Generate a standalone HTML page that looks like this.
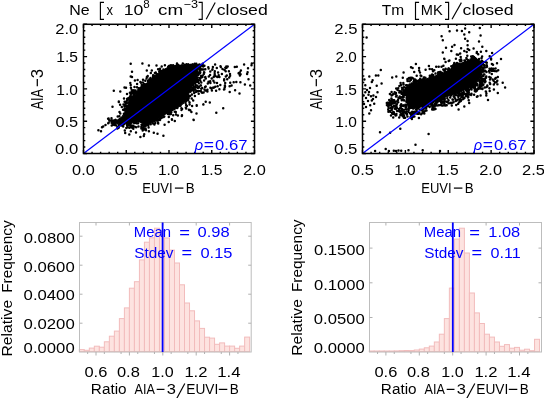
<!DOCTYPE html>
<html><head><meta charset="utf-8"><style>html,body{margin:0;padding:0;background:#fff;width:544px;height:398px;overflow:hidden}svg{display:block;will-change:transform}</style></head>
<body><svg width="544" height="398" viewBox="0 0 544 398" font-family="Liberation Sans, sans-serif"><rect width="544" height="398" fill="#fff"/><path d="M128.7 99.6h0M153.1 123.4h0M181.5 110.0h0M144.2 83.9h0M113.0 120.5h0M177.9 115.4h0M177.0 63.6h0M200.3 68.0h0M130.2 125.5h0M131.3 93.1h0M138.7 88.2h0M192.6 64.4h0M124.0 98.4h0M186.9 106.1h0M192.9 64.6h0M154.2 77.3h0M126.8 101.1h0M159.9 70.6h0M112.1 122.5h0M115.4 123.4h0M195.7 85.7h0M141.5 124.8h0M160.0 68.8h0M147.6 76.5h0M158.1 69.2h0M200.3 70.1h0M137.0 87.3h0M185.8 101.6h0M195.3 64.6h0M168.2 66.7h0M159.2 71.8h0M148.5 80.4h0M157.5 133.7h0M130.8 93.8h0M198.1 65.2h0M148.0 81.0h0M201.1 76.0h0M196.9 75.2h0M195.2 83.3h0M141.7 85.1h0M112.8 122.9h0M155.3 123.0h0M189.0 110.0h0M189.6 102.5h0M127.7 127.2h0M125.4 108.5h0M164.6 124.8h0M197.8 88.0h0M184.6 64.7h0M132.9 127.6h0M129.9 92.8h0M197.4 73.7h0M134.4 123.1h0M161.1 71.9h0M131.0 93.1h0M189.5 102.6h0M115.9 125.3h0M142.9 82.4h0M199.4 71.7h0M190.4 91.8h0M134.5 93.3h0M190.7 91.3h0M123.1 109.7h0M138.3 90.0h0M127.1 99.1h0M119.4 116.3h0M129.9 96.8h0M114.3 121.3h0M174.8 121.1h0M115.7 119.9h0M191.0 90.1h0M178.4 65.1h0M150.5 124.1h0M168.0 114.0h0M200.0 77.9h0M188.6 95.6h0M126.5 106.2h0M193.5 90.0h0M185.6 103.1h0M173.1 65.2h0M187.1 97.6h0M115.4 123.2h0M143.6 127.1h0M143.1 128.4h0M136.0 132.4h0M130.5 97.6h0M123.9 124.2h0M191.7 87.6h0M159.8 118.6h0M123.9 113.7h0M191.7 98.5h0M112.5 106.8h0M142.4 125.0h0M113.4 124.0h0M141.3 127.1h0M200.5 66.5h0M192.6 85.2h0M164.9 65.2h0M163.3 115.7h0M115.2 119.9h0M194.6 87.0h0M120.8 125.3h0M188.4 64.4h0M133.4 125.8h0M132.2 96.4h0M196.5 76.2h0M196.1 81.9h0M130.2 125.2h0M193.8 82.0h0M132.7 91.6h0M127.6 125.7h0M150.7 124.3h0M111.7 125.4h0M164.3 116.4h0M133.2 93.6h0M176.7 65.3h0M146.6 78.5h0M195.8 81.8h0M135.5 92.8h0M203.5 69.4h0M143.3 85.7h0M156.5 120.6h0M143.7 128.1h0M188.2 100.2h0M135.6 90.5h0M150.0 79.9h0M143.0 128.2h0M131.4 93.8h0M188.3 99.2h0M169.1 66.8h0M161.7 66.6h0M150.6 79.2h0M109.3 120.6h0M140.8 121.8h0M131.7 125.4h0M142.1 86.0h0M169.5 65.7h0M112.1 122.0h0M160.7 118.1h0M181.7 109.5h0M124.4 106.6h0M135.8 91.4h0M127.1 106.1h0M157.9 120.0h0M173.2 115.2h0M146.0 130.3h0M153.1 75.2h0M181.5 65.4h0M205.3 69.2h0M112.5 125.1h0M204.1 80.4h0M137.1 84.0h0M140.4 81.9h0M155.7 72.4h0M140.2 88.2h0M169.9 113.0h0M155.0 73.2h0M140.9 87.4h0M153.8 132.7h0M138.1 123.2h0M130.8 131.3h0M148.3 125.6h0M142.2 85.3h0M201.9 69.5h0M145.3 80.8h0M146.9 77.1h0M154.9 73.1h0M187.1 99.2h0M138.3 121.6h0M148.6 127.4h0M194.8 63.8h0M156.1 73.5h0M149.4 79.3h0M145.5 84.4h0M154.4 124.4h0M127.4 98.7h0M198.1 74.3h0M135.9 122.7h0M128.5 98.2h0M136.5 123.3h0M150.5 78.1h0M192.2 88.7h0M185.5 101.4h0M123.5 104.4h0M136.2 92.0h0M133.3 128.8h0M194.9 80.2h0M136.5 92.7h0M144.9 84.3h0M160.2 119.5h0M111.2 120.6h0M169.3 66.0h0M146.8 70.4h0M200.6 65.1h0M141.0 82.8h0M193.2 100.5h0M113.2 122.8h0M117.4 128.5h0M132.2 93.5h0M171.0 65.2h0M162.7 70.9h0M121.8 107.0h0M123.2 126.5h0M118.6 125.1h0M158.1 122.5h0M200.1 78.1h0M172.5 65.7h0M199.5 66.8h0M111.5 118.2h0M186.2 108.5h0M195.0 81.9h0M130.3 83.1h0M168.5 112.8h0M199.5 73.5h0M174.8 111.7h0M199.2 72.3h0M144.2 134.3h0M126.9 103.1h0M203.8 74.0h0M176.0 114.6h0M131.3 92.3h0M125.9 111.3h0M182.0 115.3h0M130.7 94.6h0M168.7 122.1h0M188.2 64.5h0M120.3 113.6h0M182.8 63.5h0M142.7 130.6h0M196.9 75.2h0M202.7 63.8h0M144.6 85.1h0M127.3 126.3h0M127.1 125.6h0M185.8 100.1h0M196.3 77.8h0M177.3 108.0h0M130.7 76.6h0M196.7 91.3h0M117.7 116.5h0M108.6 118.5h0M196.3 63.7h0M152.9 78.4h0M134.7 92.1h0M151.8 70.5h0M197.8 74.2h0M138.8 88.3h0M130.7 127.0h0M131.6 127.5h0M161.7 117.7h0M148.9 131.2h0M118.9 126.7h0M163.4 135.7h0M187.0 100.3h0M125.6 111.4h0M193.2 90.2h0M124.7 109.4h0M123.9 110.0h0M119.5 111.9h0M169.8 114.2h0M145.6 128.4h0M115.3 123.0h0M153.0 76.5h0M186.1 105.0h0M158.2 123.4h0M129.4 127.7h0M170.9 113.9h0M154.7 75.9h0M133.8 90.3h0M160.9 70.7h0M134.2 122.9h0M181.8 116.1h0M125.5 104.7h0M117.4 127.2h0M194.2 86.7h0M180.5 105.7h0M108.1 118.8h0M144.6 129.4h0M125.5 111.8h0M140.0 121.2h0M111.6 122.7h0M120.1 104.8h0M157.4 119.8h0M196.4 79.7h0M126.0 87.7h0M194.9 95.9h0M124.8 130.6h0M191.1 64.9h0M114.2 121.4h0M114.6 124.9h0M130.9 87.8h0M200.0 73.2h0M101.0 131.2h0M148.9 65.6h0M126.3 128.1h0M125.6 102.9h0M212.5 69.2h0M198.6 67.7h0M199.0 68.8h0M109.9 120.5h0M126.7 107.7h0M136.2 127.3h0M98.4 130.3h0M108.2 123.2h0M171.3 112.2h0M139.2 88.7h0M173.4 65.8h0M182.1 109.0h0M126.6 109.1h0M119.7 125.1h0M129.3 134.5h0M193.7 91.3h0M191.9 94.6h0M188.7 98.0h0M160.0 120.0h0M141.4 128.5h0M145.6 129.0h0M161.3 71.8h0M124.6 101.7h0M190.6 64.9h0M143.8 136.0h0M125.2 132.9h0M148.4 80.8h0M138.5 126.6h0M108.7 122.8h0M186.6 64.2h0M143.8 84.9h0M189.0 96.4h0M197.8 77.7h0M163.4 69.5h0M130.5 95.8h0M118.6 127.8h0M196.5 113.4h0M134.2 94.9h0M122.6 126.0h0M200.9 85.5h0M220.8 67.0h0M212.3 69.8h0M202.4 77.1h0M225.2 83.0h0M196.2 91.7h0M224.0 89.5h0M224.7 87.5h0M200.8 91.0h0M210.4 87.8h0M213.7 77.0h0M205.3 77.0h0M203.2 66.6h0M224.4 89.3h0M213.3 87.6h0M195.7 85.2h0M208.6 68.6h0M198.5 80.1h0M200.6 78.0h0M215.4 75.9h0M195.5 79.0h0M199.9 70.5h0M198.2 74.9h0M193.1 84.4h0M230.1 75.7h0M216.8 68.0h0M207.4 91.6h0M198.5 91.1h0M205.7 86.6h0M215.3 86.8h0M198.9 83.3h0M214.4 82.4h0M205.1 86.9h0M204.3 72.5h0M196.9 85.5h0M192.9 84.1h0M213.4 80.8h0M204.4 65.8h0M190.1 95.9h0M201.3 82.6h0M205.4 90.5h0M211.7 78.5h0M218.1 72.6h0M200.8 85.5h0M225.7 71.3h0M214.7 74.5h0M200.3 72.3h0M198.6 74.4h0M193.6 87.9h0M222.5 69.0h0M210.2 81.2h0M204.0 72.3h0M208.3 67.3h0M226.3 66.4h0M224.6 70.0h0M202.7 75.6h0M205.2 77.4h0M195.4 89.5h0M203.6 92.4h0M212.9 66.9h0M226.5 67.7h0M210.1 75.1h0M204.5 89.4h0M199.0 86.6h0M208.5 81.8h0M216.1 90.7h0M227.7 66.5h0M195.8 80.5h0M224.1 80.5h0M202.5 65.6h0M220.5 66.3h0M207.8 83.4h0M225.0 86.5h0M202.2 88.1h0M201.2 88.8h0M200.4 91.0h0M225.8 76.6h0M210.3 71.4h0M212.5 69.2h0M205.8 78.6h0M198.0 81.8h0M191.4 90.0h0M214.7 72.9h0M227.2 79.2h0M211.9 90.5h0M199.0 87.5h0M217.3 77.0h0M226.2 67.5h0M225.3 67.8h0M228.9 71.3h0M210.4 82.9h0M200.2 80.4h0M221.9 74.0h0M199.3 64.4h0M219.4 76.9h0M194.2 93.1h0M224.9 85.4h0M220.3 84.9h0M214.8 71.3h0M195.6 86.9h0M215.1 64.6h0M217.0 83.0h0M211.5 88.5h0M226.8 75.4h0M224.2 79.3h0M214.0 76.5h0M229.2 77.5h0M230.0 74.0h0M218.7 75.2h0M207.4 89.8h0M208.8 76.4h0M213.7 87.7h0M198.7 93.8h0M202.4 69.5h0M198.9 68.0h0M217.7 86.3h0M219.4 89.2h0M225.8 67.9h0M235.1 90.3h0M236.3 82.0h0M230.2 82.7h0M231.6 85.5h0M238.6 73.2h0M229.6 86.3h0M234.8 67.1h0M233.7 82.2h0M239.7 74.5h0M239.9 75.6h0M248.0 68.2h0M251.8 63.6h0M250.2 85.5h0M240.6 74.2h0M247.6 72.3h0M240.9 70.5h0M130.7 63.8h0M142.4 63.5h0M132.0 71.7h0M132.0 77.0h0M134.9 80.5h0M137.6 80.1h0M143.0 79.7h0M147.7 76.1h0M150.8 72.9h0M156.5 65.6h0M124.5 87.4h0M130.7 85.1h0M131.6 89.7h0M134.5 87.0h0M113.8 90.8h0M120.3 91.4h0M127.0 93.9h0M118.8 101.4h0M118.8 101.9h0M123.9 109.4h0M135.4 127.0h0M140.4 137.0h0M103.2 126.4h0M105.5 125.0h0M102.0 127.3h0M163.8 117.0h0M168.8 117.0h0M172.0 119.7h0M175.8 112.0h0M181.4 108.2h0M185.8 107.6h0M188.9 109.8h0M191.4 112.0h0M189.6 104.4h0M192.1 106.1h0M196.7 105.7h0M193.7 119.9h0M203.4 104.4h0M197.5 91.3h0M202.1 92.8h0M201.6 92.3h0M196.7 105.3h0M203.3 104.5h0M205.7 101.7h0M209.8 102.4h0M216.3 112.7h0M223.2 108.3h0M229.7 91.9h0M239.5 93.6h0M193.5 119.7h0M171.9 119.2h0M190.2 110.2h0M186.1 108.6h0M244.1 64.6h0M251.5 65.3h0M247.1 74.1h0M248.5 79.3h0M244.9 84.4h0M240.4 82.2h0M239.7 72.6h0M236.8 66.8h0" stroke="#000" stroke-width="2.5" stroke-linecap="round" fill="none"/><polygon points="113.76,122 119.42,124.36 125.62,123.84 129.33,126.06 131.41,123.29 139.98,120.43 144.48,126.61 145.38,126.76 149.71,123.73 155.17,121.25 158.97,118.39 164.17,114.76 170.3,111.69 176.62,108.29 183.16,103.62 185.75,100.17 188.12,94.95 197.01,74.21 198.43,67.6 198.64,65.3 190.03,65.3 175.24,65.6 169.81,66.5 165.46,68.68 161.32,72.3 157.09,73.71 154.38,77.32 144.06,85.58 139.35,88.88 135.33,94.41 130.66,97.52 129.37,98.81 128.01,104.68 125.84,111.72 121.82,116.9 117.9,119.69 114.13,121.85" fill="#000" stroke="#000" stroke-width="1.2" stroke-linejoin="round"/><line x1="83.5" y1="153.5" x2="254.5" y2="24.3" stroke="#0000ff" stroke-width="1.2"/><rect x="83.5" y="24.3" width="171" height="129.2" fill="none" stroke="#000" stroke-width="1.5"/><path d="M83.5 153.5v-3.6M83.5 24.3v3.6M92.05 153.5v-1.8M92.05 24.3v1.8M100.6 153.5v-1.8M100.6 24.3v1.8M109.15 153.5v-1.8M109.15 24.3v1.8M117.7 153.5v-1.8M117.7 24.3v1.8M126.25 153.5v-3.6M126.25 24.3v3.6M134.8 153.5v-1.8M134.8 24.3v1.8M143.35 153.5v-1.8M143.35 24.3v1.8M151.9 153.5v-1.8M151.9 24.3v1.8M160.45 153.5v-1.8M160.45 24.3v1.8M169 153.5v-3.6M169 24.3v3.6M177.55 153.5v-1.8M177.55 24.3v1.8M186.1 153.5v-1.8M186.1 24.3v1.8M194.65 153.5v-1.8M194.65 24.3v1.8M203.2 153.5v-1.8M203.2 24.3v1.8M211.75 153.5v-3.6M211.75 24.3v3.6M220.3 153.5v-1.8M220.3 24.3v1.8M228.85 153.5v-1.8M228.85 24.3v1.8M237.4 153.5v-1.8M237.4 24.3v1.8M245.95 153.5v-1.8M245.95 24.3v1.8M254.5 153.5v-3.6M254.5 24.3v3.6M83.5 153.5h3.6M254.5 153.5h-3.6M83.5 147.04h1.8M254.5 147.04h-1.8M83.5 140.58h1.8M254.5 140.58h-1.8M83.5 134.12h1.8M254.5 134.12h-1.8M83.5 127.66h1.8M254.5 127.66h-1.8M83.5 121.2h3.6M254.5 121.2h-3.6M83.5 114.74h1.8M254.5 114.74h-1.8M83.5 108.28h1.8M254.5 108.28h-1.8M83.5 101.82h1.8M254.5 101.82h-1.8M83.5 95.36h1.8M254.5 95.36h-1.8M83.5 88.9h3.6M254.5 88.9h-3.6M83.5 82.44h1.8M254.5 82.44h-1.8M83.5 75.98h1.8M254.5 75.98h-1.8M83.5 69.52h1.8M254.5 69.52h-1.8M83.5 63.06h1.8M254.5 63.06h-1.8M83.5 56.6h3.6M254.5 56.6h-3.6M83.5 50.14h1.8M254.5 50.14h-1.8M83.5 43.68h1.8M254.5 43.68h-1.8M83.5 37.22h1.8M254.5 37.22h-1.8M83.5 30.76h1.8M254.5 30.76h-1.8M83.5 24.3h3.6M254.5 24.3h-3.6" stroke="#000" stroke-width="1.4" fill="none"/><path d="M426.1 106.2h0M424.3 78.6h0M461.9 93.7h0M441.5 66.7h0M405.6 88.0h0M481.5 76.7h0M467.6 91.0h0M424.8 107.0h0M429.8 77.3h0M480.5 61.8h0M469.0 90.0h0M406.5 105.9h0M480.6 77.8h0M410.2 107.1h0M442.0 98.5h0M481.1 65.8h0M482.8 71.8h0M454.1 63.9h0M476.7 83.4h0M444.1 98.1h0M480.9 64.7h0M432.1 103.3h0M432.3 76.2h0M448.6 100.4h0M442.4 98.7h0M412.5 113.8h0M439.3 100.7h0M482.1 63.4h0M402.7 97.3h0M486.8 65.3h0M455.8 95.0h0M409.8 84.4h0M477.0 90.5h0M435.5 73.6h0M436.2 66.7h0M473.8 86.9h0M468.9 92.0h0M478.3 62.5h0M420.6 75.4h0M468.7 100.2h0M476.7 61.4h0M405.6 92.0h0M410.8 80.0h0M424.7 106.1h0M403.4 96.6h0M485.3 71.1h0M474.9 85.1h0M404.4 93.4h0M441.8 72.9h0M412.1 114.0h0M421.3 75.9h0M419.9 79.8h0M408.1 78.7h0M416.6 108.5h0M415.0 79.4h0M409.8 107.2h0M469.0 90.0h0M475.0 58.0h0M407.4 102.6h0M453.2 65.2h0M414.2 80.4h0M407.5 80.9h0M409.0 107.2h0M422.1 79.8h0M411.9 77.8h0M406.6 97.2h0M440.9 73.3h0M479.5 79.9h0M479.5 63.1h0M466.4 58.1h0M415.5 80.8h0M443.3 69.4h0M467.6 88.9h0M401.9 87.8h0M473.9 85.4h0M457.4 64.7h0M400.6 83.0h0M403.4 84.4h0M481.6 70.6h0M447.3 98.3h0M455.2 64.8h0M455.7 65.8h0M426.2 107.9h0M416.2 109.2h0M441.2 101.3h0M483.8 70.9h0M473.3 85.4h0M479.9 85.3h0M455.3 64.7h0M406.1 85.2h0M447.8 69.4h0M403.4 105.9h0M461.8 93.2h0M467.3 89.8h0M408.7 110.1h0M453.9 96.2h0M459.7 60.0h0M477.1 59.9h0M400.7 98.2h0M406.1 89.9h0M479.1 58.9h0M473.8 57.1h0M469.6 60.8h0M403.8 90.1h0M403.2 95.4h0M407.3 102.6h0M483.3 80.3h0M403.3 112.5h0M486.5 71.9h0M411.4 107.7h0M400.9 85.1h0M416.7 75.7h0M460.9 61.0h0M462.7 93.9h0M409.1 78.1h0M406.3 107.3h0M471.7 58.2h0M423.4 107.5h0M416.2 109.8h0M402.7 94.3h0M441.8 100.9h0M471.3 61.3h0M448.5 68.5h0M481.8 62.4h0M455.2 98.4h0M406.4 95.0h0M411.7 83.6h0M438.1 72.6h0M405.9 93.9h0M430.3 77.0h0M423.8 77.6h0M430.8 76.8h0M434.7 104.0h0M419.6 109.5h0M429.8 75.8h0M403.5 105.4h0M461.5 60.7h0M398.2 102.2h0M422.7 107.1h0M415.8 80.3h0M481.6 57.9h0M467.3 55.8h0M466.3 90.1h0M406.0 109.6h0M474.9 90.2h0M454.3 63.0h0M489.3 77.1h0M407.6 85.5h0M468.0 60.6h0M431.7 75.1h0M479.4 88.4h0M409.4 85.1h0M403.4 114.3h0M455.7 101.0h0M433.3 108.3h0M481.8 78.9h0M390.2 111.6h0M481.4 67.1h0M392.2 108.5h0M464.6 93.4h0M424.4 78.5h0M448.5 100.2h0M411.2 117.2h0M419.4 112.7h0M396.9 108.0h0M401.7 97.2h0M401.8 100.3h0M392.1 112.9h0M396.0 96.6h0M406.7 98.5h0M473.4 60.9h0M411.0 114.8h0M432.9 105.2h0M425.4 106.2h0M482.3 84.7h0M452.5 99.6h0M403.8 110.0h0M401.1 115.0h0M426.7 106.5h0M418.5 80.6h0M485.0 80.4h0M455.8 100.0h0M402.2 88.9h0M457.9 95.2h0M467.9 60.0h0M480.1 80.6h0M392.6 113.2h0M445.1 105.5h0M414.6 112.3h0M401.7 114.5h0M410.6 84.4h0M424.3 113.6h0M453.5 102.3h0M459.9 95.0h0M403.1 112.8h0M481.2 63.7h0M399.3 92.5h0M399.7 96.6h0M442.6 101.4h0M414.0 112.3h0M459.8 99.2h0M387.8 105.7h0M450.9 103.0h0M400.4 115.1h0M423.4 108.1h0M482.1 70.8h0M392.8 103.6h0M386.8 103.1h0M399.5 98.0h0M476.2 58.9h0M412.7 115.0h0M394.9 103.3h0M407.1 101.0h0M425.3 110.7h0M403.6 96.6h0M403.2 110.7h0M391.4 109.0h0M428.5 105.8h0M475.9 84.0h0M450.2 97.6h0M410.2 107.9h0M464.4 98.1h0M466.3 95.0h0M403.6 113.8h0M396.8 104.2h0M388.4 110.3h0M402.1 109.0h0M400.4 112.3h0M471.7 58.8h0M432.4 107.9h0M482.9 75.6h0M461.6 96.0h0M392.5 113.8h0M484.8 78.8h0M395.3 105.9h0M475.0 88.1h0M445.6 101.3h0M412.3 83.9h0M406.6 91.9h0M414.5 83.1h0M426.5 110.6h0M479.3 87.2h0M483.1 64.5h0M388.3 106.4h0M405.6 107.7h0M391.7 102.1h0M409.8 84.4h0M389.8 111.5h0M398.0 100.0h0M445.6 68.8h0M446.2 105.2h0M437.0 105.5h0M404.2 100.5h0M461.3 100.0h0M417.0 112.6h0M475.5 60.4h0M440.8 100.8h0M420.6 80.7h0M405.4 104.8h0M454.3 65.7h0M390.4 103.8h0M484.3 66.3h0M402.9 92.9h0M404.0 87.3h0M479.8 83.9h0M485.5 71.1h0M406.3 106.5h0M394.9 106.3h0M468.3 97.1h0M414.1 113.1h0M485.8 78.0h0M402.3 92.3h0M413.1 108.4h0M421.7 80.5h0M460.0 100.3h0M478.4 88.1h0M471.3 94.8h0M391.6 95.4h0M448.8 68.6h0M471.5 93.8h0M434.7 106.6h0M417.4 111.9h0M483.4 84.4h0M467.2 91.6h0M442.2 73.0h0M407.6 111.2h0M477.4 85.5h0M392.2 106.9h0M451.3 66.3h0M483.1 85.0h0M472.8 58.1h0M457.7 95.5h0M468.2 61.3h0M403.4 112.1h0M403.7 97.1h0M415.1 82.9h0M462.8 97.6h0M413.5 81.8h0M441.2 102.6h0M391.8 99.7h0M425.8 110.3h0M396.3 96.6h0M435.5 103.3h0M409.9 107.6h0M405.0 94.4h0M396.3 115.2h0M400.6 112.7h0M396.4 114.0h0M403.8 90.6h0M408.3 109.1h0M403.2 99.6h0M450.9 95.6h0M482.7 76.0h0M396.2 108.1h0M402.3 111.0h0M391.0 104.9h0M444.2 100.9h0M467.6 95.0h0M421.1 114.3h0M465.7 96.0h0M484.3 70.8h0M477.9 89.0h0M406.4 101.7h0M436.6 102.8h0M429.6 107.0h0M452.9 99.8h0M392.9 113.6h0M387.9 102.8h0M470.7 87.0h0M432.2 109.5h0M463.2 93.0h0M476.1 91.3h0M472.7 87.2h0M401.5 93.3h0M421.2 110.2h0M483.8 71.4h0M483.2 68.5h0M390.9 108.0h0M481.7 67.0h0M444.4 101.1h0M483.1 69.3h0M407.1 85.4h0M413.7 116.6h0M399.2 111.2h0M475.5 91.6h0M434.9 104.9h0M424.0 79.2h0M404.6 92.4h0M393.9 106.1h0M402.8 116.3h0M481.3 65.7h0M425.4 77.8h0M391.9 109.8h0M431.4 104.1h0M405.0 94.8h0M481.0 82.1h0M391.6 108.8h0M393.4 100.2h0M483.3 75.9h0M474.8 61.5h0M461.3 93.7h0M437.3 102.6h0M444.4 99.2h0M407.5 116.4h0M475.1 60.1h0M481.9 60.7h0M460.1 61.2h0M485.8 77.3h0M437.3 101.0h0M390.4 111.7h0M440.4 72.0h0M475.3 60.5h0M444.4 103.4h0M449.5 69.6h0M424.6 77.6h0M436.0 102.8h0M395.0 108.8h0M410.0 113.2h0M464.4 60.5h0M417.1 81.2h0M393.9 112.3h0M481.7 82.6h0M390.4 111.0h0M401.0 108.0h0M458.6 96.6h0M388.6 108.2h0M389.3 105.5h0M404.6 92.5h0M400.4 115.2h0M430.6 103.7h0M453.5 67.2h0M476.3 89.5h0M436.3 104.1h0M392.0 100.6h0M406.3 112.3h0M389.7 104.3h0M424.1 112.1h0M470.8 88.5h0M439.2 101.1h0M445.3 105.6h0M457.0 63.1h0M407.6 104.1h0M396.7 95.8h0M444.8 99.1h0M388.2 109.7h0M406.9 100.3h0M395.6 115.5h0M394.6 106.3h0M444.0 70.5h0M391.5 108.6h0M399.7 110.7h0M467.5 89.0h0M482.4 85.5h0M410.6 117.1h0M450.5 102.9h0M431.8 105.0h0M396.4 107.7h0M403.7 111.0h0M485.5 81.5h0M401.5 93.7h0M396.4 108.8h0M442.9 101.7h0M412.7 114.4h0M460.4 95.1h0M472.8 86.6h0M387.5 103.3h0M398.6 97.7h0M403.9 115.4h0M407.1 114.0h0M477.3 84.6h0M425.7 107.4h0M439.2 73.9h0M442.7 105.6h0M406.7 114.6h0M482.6 79.1h0M392.7 94.8h0M464.7 93.7h0M475.9 60.5h0M397.6 90.1h0M418.0 81.2h0M446.7 105.2h0M468.0 97.5h0M393.1 101.9h0M400.4 107.8h0M483.3 80.7h0M458.2 99.4h0M406.1 113.3h0M391.2 100.8h0M463.3 98.2h0M485.0 81.4h0M419.3 112.5h0M433.1 105.3h0M453.7 96.5h0M389.2 100.0h0M440.7 99.9h0M393.5 101.1h0M403.2 105.6h0M452.2 102.8h0M433.1 75.0h0M413.2 116.7h0M447.1 101.9h0M462.8 95.8h0M395.5 93.9h0M402.2 89.6h0M431.5 105.5h0M404.7 111.9h0M484.3 80.9h0M405.1 117.7h0M391.7 101.0h0M458.7 63.7h0M418.9 113.8h0M466.5 58.9h0M474.8 90.9h0M435.5 108.9h0M473.9 59.9h0M471.5 89.4h0M427.7 105.4h0M428.5 105.3h0M401.2 104.3h0M388.5 108.0h0M463.7 92.0h0M463.3 98.9h0M386.9 105.1h0M482.9 70.0h0M389.5 102.6h0M403.9 117.7h0M413.4 113.9h0M440.0 72.0h0M411.3 113.4h0M396.8 101.5h0M421.6 109.5h0M393.5 100.6h0M423.7 108.6h0M468.4 93.1h0M413.9 112.5h0M466.2 90.6h0M484.4 74.5h0M427.8 105.7h0M406.8 99.3h0M402.8 89.3h0M438.0 74.6h0M443.6 105.2h0M458.4 96.9h0M443.2 102.5h0M391.4 98.5h0M479.8 81.9h0M442.0 105.5h0M480.0 84.8h0M411.7 116.7h0M483.5 62.1h0M392.8 94.5h0M413.7 113.2h0M458.5 93.3h0M477.0 83.9h0M439.3 72.4h0M427.1 104.9h0M469.6 94.5h0M401.3 91.4h0M396.0 93.0h0M400.5 105.6h0M409.1 107.4h0M416.1 113.6h0M459.7 93.6h0M484.3 79.1h0M474.4 88.4h0M425.1 107.4h0M438.5 72.2h0M451.8 66.7h0M396.6 106.0h0M432.7 106.8h0M475.7 91.4h0M479.1 61.1h0M403.5 96.8h0M404.0 116.6h0M410.8 114.3h0M401.2 106.3h0M416.4 111.3h0M422.2 113.3h0M422.9 111.6h0M394.1 114.0h0M412.2 111.8h0M467.0 94.0h0M401.0 110.4h0M482.3 64.4h0M394.2 100.3h0M472.9 87.3h0M484.9 67.4h0M393.2 112.1h0M483.7 74.7h0M436.1 105.0h0M417.9 108.2h0M390.8 107.9h0M394.6 92.3h0M395.6 109.1h0M438.8 105.2h0M440.4 105.1h0M479.9 61.4h0M481.5 82.3h0M395.3 92.9h0M413.2 113.2h0M476.9 96.7h0M424.0 78.9h0M474.9 86.2h0M391.6 99.0h0M467.7 49.0h0M480.9 83.9h0M489.7 82.7h0M410.7 77.7h0M489.7 56.3h0M472.0 59.2h0M437.4 101.3h0M408.8 78.4h0M433.9 109.4h0M411.3 112.5h0M484.8 79.6h0M483.0 63.2h0M498.2 70.3h0M393.1 94.2h0M460.9 100.9h0M403.7 99.9h0M430.3 76.6h0M409.6 81.2h0M466.6 94.1h0M455.9 58.8h0M409.6 84.8h0M460.2 94.6h0M475.8 85.3h0M405.4 92.7h0M471.2 56.6h0M493.0 64.8h0M407.4 79.8h0M401.3 97.6h0M397.2 111.1h0M393.2 117.5h0M431.3 105.2h0M481.5 80.7h0M491.1 58.4h0M485.7 62.2h0M495.7 78.1h0M480.9 51.8h0M487.4 85.9h0M418.9 117.9h0M392.6 107.4h0M486.8 67.0h0M486.2 77.3h0M493.6 80.8h0M480.0 63.9h0M494.9 82.6h0M490.7 77.8h0M432.1 69.2h0M470.5 59.5h0M407.3 101.4h0M395.3 102.0h0M413.2 78.6h0M458.2 103.8h0M456.8 54.6h0M414.4 116.6h0M497.4 84.3h0M399.0 109.0h0M420.2 78.7h0M456.7 100.5h0M412.0 78.2h0M408.5 111.7h0M399.7 90.9h0M486.8 62.7h0M411.0 116.2h0M415.5 81.6h0M420.0 72.4h0M444.2 58.7h0M413.6 108.4h0M389.9 94.1h0M443.9 101.4h0M422.9 79.3h0M458.1 54.7h0M399.2 117.4h0M447.6 101.8h0M407.5 79.0h0M410.9 117.7h0M476.9 52.1h0M461.1 59.4h0M434.3 70.3h0M448.7 61.1h0M464.4 93.7h0M412.0 115.6h0M471.2 95.0h0M406.5 88.1h0M391.6 92.1h0M443.4 65.8h0M476.7 52.9h0M489.5 68.7h0M423.1 109.5h0M485.8 91.6h0M415.4 79.7h0M479.3 81.3h0M483.7 74.4h0M454.4 97.2h0M402.3 114.8h0M460.9 95.4h0M398.5 97.9h0M405.7 106.3h0M417.4 113.8h0M491.1 59.6h0M458.9 94.7h0M416.7 108.9h0M494.6 71.0h0M496.5 82.0h0M388.4 111.7h0M456.2 105.0h0M441.7 103.2h0M411.9 118.9h0M448.6 103.2h0M472.7 56.2h0M460.7 57.1h0M482.1 56.4h0M414.3 111.8h0M416.7 109.9h0M449.4 60.5h0M396.2 88.5h0M388.3 104.9h0M398.2 88.2h0M451.8 105.4h0M473.6 48.4h0M466.7 51.9h0M454.6 63.4h0M477.6 96.2h0M456.1 65.6h0M465.0 60.9h0M445.1 71.3h0M461.3 97.3h0M482.4 89.0h0M399.4 85.9h0M432.1 74.6h0M403.3 83.0h0M489.4 88.2h0M493.8 84.6h0M491.9 63.9h0M493.4 68.8h0M489.0 71.1h0M481.1 88.4h0M492.7 79.6h0M489.7 90.9h0M491.5 70.8h0M482.5 88.4h0M480.9 86.3h0M486.4 93.6h0M486.7 87.1h0M495.6 68.4h0M489.5 72.6h0M484.8 87.5h0M483.5 81.1h0M490.0 79.4h0M482.3 83.0h0M496.5 71.2h0M486.0 91.8h0M490.4 69.5h0M486.3 76.4h0M484.9 82.2h0M493.1 70.8h0M490.2 84.0h0M487.3 85.6h0M497.3 80.7h0M487.0 66.8h0M484.5 65.3h0M482.0 67.4h0M495.2 78.8h0M493.9 89.4h0M491.8 74.1h0M491.5 68.5h0M366.6 37.4h0M441.6 36.2h0M442.8 40.3h0M446.0 47.7h0M442.8 52.6h0M444.4 59.1h0M445.6 61.9h0M411.0 67.2h0M415.9 64.0h0M412.6 68.1h0M419.1 68.1h0M414.2 72.1h0M419.1 70.5h0M403.6 72.6h0M425.6 69.7h0M428.9 66.1h0M429.7 68.9h0M433.0 71.3h0M438.7 66.8h0M380.8 70.0h0M369.3 76.5h0M375.9 75.4h0M378.3 75.4h0M364.4 79.5h0M372.6 80.3h0M371.8 81.9h0M376.7 85.7h0M381.6 83.6h0M365.3 85.2h0M392.2 77.5h0M396.3 76.5h0M402.8 77.8h0M403.6 84.4h0M449.6 31.3h0M457.0 30.5h0M461.9 30.9h0M465.1 28.6h0M469.2 32.2h0M479.8 28.1h0M464.3 34.6h0M465.1 38.7h0M467.6 41.1h0M480.6 35.4h0M479.0 41.6h0M454.5 44.9h0M452.1 46.8h0M461.1 48.2h0M467.6 45.2h0M464.3 50.9h0M469.2 50.1h0M482.3 46.8h0M486.3 50.9h0M451.3 50.9h0M460.2 53.4h0M478.2 54.2h0M492.1 53.0h0M501.0 59.1h0M497.0 63.2h0M497.8 77.0h0M502.7 82.7h0M505.1 87.6h0M365.3 92.3h0M368.5 94.7h0M371.0 96.3h0M373.4 95.5h0M371.8 100.4h0M374.2 103.7h0M370.2 105.3h0M377.5 92.3h0M371.0 110.2h0M369.3 113.5h0M363.6 95.5h0M366.0 98.0h0M368.0 101.0h0M364.0 104.0h0M367.0 90.0h0M370.0 88.0h0M366.0 107.0h0M373.0 99.0h0M376.0 97.0h0M369.0 92.0h0M391.0 115.4h0M400.3 128.7h0M380.0 132.2h0M390.1 132.7h0M428.6 133.9h0M415.5 144.8h0M375.1 151.0h0M385.7 149.0h0M388.9 151.0h0M393.8 150.7h0M396.0 151.0h0M398.5 150.5h0M401.2 150.7h0M408.5 150.2h0M422.7 150.2h0M440.0 151.0h0M458.6 109.4h0M464.3 106.6h0M469.2 102.9h0M459.4 102.1h0M474.1 94.7h0M480.6 95.5h0M486.3 95.5h0M488.0 100.1h0M497.8 93.1h0M467.6 96.3h0" stroke="#000" stroke-width="2.5" stroke-linecap="round" fill="none"/><polygon points="406.6,86.99 406.6,95.89 407.97,105.91 413.24,108.35 419.34,107.44 425.49,105.48 432.37,103.03 439.35,99.54 448.51,95.97 456.44,93.99 463.33,90.54 469.2,88.1 474.95,83.79 479.64,79.09 481.86,73.78 480.96,66.55 478.68,62.89 473.79,61.6 466.71,61.6 459.65,63.48 452.83,67.87 445.7,71.94 438.06,75 431.1,77.42 424.23,79.51 417.4,82.18 410.66,84.96" fill="#000" stroke="#000" stroke-width="1.2" stroke-linejoin="round"/><line x1="362.5" y1="153.5" x2="534" y2="24.3" stroke="#0000ff" stroke-width="1.2"/><rect x="362.5" y="24.3" width="171.5" height="129.2" fill="none" stroke="#000" stroke-width="1.5"/><path d="M362.5 153.5v-3.6M362.5 24.3v3.6M371.07 153.5v-1.8M371.07 24.3v1.8M379.65 153.5v-1.8M379.65 24.3v1.8M388.23 153.5v-1.8M388.23 24.3v1.8M396.8 153.5v-1.8M396.8 24.3v1.8M405.38 153.5v-3.6M405.38 24.3v3.6M413.95 153.5v-1.8M413.95 24.3v1.8M422.53 153.5v-1.8M422.53 24.3v1.8M431.1 153.5v-1.8M431.1 24.3v1.8M439.68 153.5v-1.8M439.68 24.3v1.8M448.25 153.5v-3.6M448.25 24.3v3.6M456.82 153.5v-1.8M456.82 24.3v1.8M465.4 153.5v-1.8M465.4 24.3v1.8M473.98 153.5v-1.8M473.98 24.3v1.8M482.55 153.5v-1.8M482.55 24.3v1.8M491.12 153.5v-3.6M491.12 24.3v3.6M499.7 153.5v-1.8M499.7 24.3v1.8M508.27 153.5v-1.8M508.27 24.3v1.8M516.85 153.5v-1.8M516.85 24.3v1.8M525.43 153.5v-1.8M525.43 24.3v1.8M534 153.5v-3.6M534 24.3v3.6M362.5 153.5h3.6M534 153.5h-3.6M362.5 147.04h1.8M534 147.04h-1.8M362.5 140.58h1.8M534 140.58h-1.8M362.5 134.12h1.8M534 134.12h-1.8M362.5 127.66h1.8M534 127.66h-1.8M362.5 121.2h3.6M534 121.2h-3.6M362.5 114.74h1.8M534 114.74h-1.8M362.5 108.28h1.8M534 108.28h-1.8M362.5 101.82h1.8M534 101.82h-1.8M362.5 95.36h1.8M534 95.36h-1.8M362.5 88.9h3.6M534 88.9h-3.6M362.5 82.44h1.8M534 82.44h-1.8M362.5 75.98h1.8M534 75.98h-1.8M362.5 69.52h1.8M534 69.52h-1.8M362.5 63.06h1.8M534 63.06h-1.8M362.5 56.6h3.6M534 56.6h-3.6M362.5 50.14h1.8M534 50.14h-1.8M362.5 43.68h1.8M534 43.68h-1.8M362.5 37.22h1.8M534 37.22h-1.8M362.5 30.76h1.8M534 30.76h-1.8M362.5 24.3h3.6M534 24.3h-3.6" stroke="#000" stroke-width="1.4" fill="none"/><text x="55.30" y="34.20" font-size="15.5" fill="#000" textLength="22.99" lengthAdjust="spacingAndGlyphs">2.0</text><text x="56.27" y="62.40" font-size="15.5" fill="#000" textLength="21.71" lengthAdjust="spacingAndGlyphs">1.5</text><text x="56.27" y="95.10" font-size="15.5" fill="#000" textLength="21.58" lengthAdjust="spacingAndGlyphs">1.0</text><text x="55.54" y="127.30" font-size="15.5" fill="#000" textLength="22.67" lengthAdjust="spacingAndGlyphs">0.5</text><text x="55.13" y="154.20" font-size="15.5" fill="#000" textLength="23.16" lengthAdjust="spacingAndGlyphs">0.0</text><text x="72.14" y="174.90" font-size="15.5" fill="#000" textLength="22.63" lengthAdjust="spacingAndGlyphs">0.0</text><text x="114.89" y="174.90" font-size="15.5" fill="#000" textLength="22.77" lengthAdjust="spacingAndGlyphs">0.5</text><text x="157.98" y="174.90" font-size="15.5" fill="#000" textLength="21.47" lengthAdjust="spacingAndGlyphs">1.0</text><text x="200.72" y="174.90" font-size="15.5" fill="#000" textLength="21.60" lengthAdjust="spacingAndGlyphs">1.5</text><text x="243.01" y="174.90" font-size="15.5" fill="#000" textLength="22.77" lengthAdjust="spacingAndGlyphs">2.0</text><text x="142.25" y="192.60" font-size="15.5" fill="#000" textLength="30.35" lengthAdjust="spacingAndGlyphs">EUVI</text><line x1="174.9" y1="188.1" x2="183.4" y2="188.1" stroke="#000" stroke-width="1.25"/><text x="185.82" y="192.60" font-size="15.5" fill="#000" textLength="8.90" lengthAdjust="spacingAndGlyphs">B</text><text x="43.50" y="109.60" font-size="16" fill="#000" textLength="20.53" lengthAdjust="spacingAndGlyphs" transform="rotate(-90 43.50 109.60)">AIA</text><line x1="37.3" y1="78.9" x2="37.3" y2="86.3" stroke="#000" stroke-width="1.25"/><text x="43.50" y="78.26" font-size="16" fill="#000" textLength="9.34" lengthAdjust="spacingAndGlyphs" transform="rotate(-90 43.50 78.26)">3</text><text x="194.66" y="150.00" font-size="15.5" fill="#0000ff" textLength="8.42" lengthAdjust="spacingAndGlyphs"><tspan font-style="italic">&#961;</tspan></text><text x="203.85" y="150.00" font-size="15.5" fill="#0000ff" textLength="10.26" lengthAdjust="spacingAndGlyphs">=</text><text x="215.03" y="149.90" font-size="15.5" fill="#0000ff" textLength="32.42" lengthAdjust="spacingAndGlyphs">0.67</text><text x="334.30" y="34.20" font-size="15.5" fill="#000" textLength="23.13" lengthAdjust="spacingAndGlyphs">2.5</text><text x="335.56" y="62.40" font-size="15.5" fill="#000" textLength="21.18" lengthAdjust="spacingAndGlyphs">2.0</text><text x="335.27" y="95.10" font-size="15.5" fill="#000" textLength="21.71" lengthAdjust="spacingAndGlyphs">1.5</text><text x="335.27" y="127.30" font-size="15.5" fill="#000" textLength="21.58" lengthAdjust="spacingAndGlyphs">1.0</text><text x="334.12" y="154.20" font-size="15.5" fill="#000" textLength="23.30" lengthAdjust="spacingAndGlyphs">0.5</text><text x="351.14" y="174.90" font-size="15.5" fill="#000" textLength="22.77" lengthAdjust="spacingAndGlyphs">0.5</text><text x="394.23" y="174.90" font-size="15.5" fill="#000" textLength="21.47" lengthAdjust="spacingAndGlyphs">1.0</text><text x="436.97" y="174.90" font-size="15.5" fill="#000" textLength="21.60" lengthAdjust="spacingAndGlyphs">1.5</text><text x="479.26" y="174.90" font-size="15.5" fill="#000" textLength="22.77" lengthAdjust="spacingAndGlyphs">2.0</text><text x="522.00" y="174.90" font-size="15.5" fill="#000" textLength="22.91" lengthAdjust="spacingAndGlyphs">2.5</text><text x="421.25" y="192.60" font-size="15.5" fill="#000" textLength="30.35" lengthAdjust="spacingAndGlyphs">EUVI</text><line x1="453.9" y1="188.1" x2="462.4" y2="188.1" stroke="#000" stroke-width="1.25"/><text x="464.82" y="192.60" font-size="15.5" fill="#000" textLength="8.90" lengthAdjust="spacingAndGlyphs">B</text><text x="322.50" y="109.60" font-size="16" fill="#000" textLength="20.53" lengthAdjust="spacingAndGlyphs" transform="rotate(-90 322.50 109.60)">AIA</text><line x1="316.3" y1="78.9" x2="316.3" y2="86.3" stroke="#000" stroke-width="1.25"/><text x="322.50" y="78.26" font-size="16" fill="#000" textLength="9.34" lengthAdjust="spacingAndGlyphs" transform="rotate(-90 322.50 78.26)">3</text><text x="473.66" y="150.00" font-size="15.5" fill="#0000ff" textLength="8.42" lengthAdjust="spacingAndGlyphs"><tspan font-style="italic">&#961;</tspan></text><text x="482.85" y="150.00" font-size="15.5" fill="#0000ff" textLength="10.26" lengthAdjust="spacingAndGlyphs">=</text><text x="494.03" y="149.90" font-size="15.5" fill="#0000ff" textLength="32.42" lengthAdjust="spacingAndGlyphs">0.67</text><text x="69.31" y="15.30" font-size="15.5" fill="#000" textLength="20.40" lengthAdjust="spacingAndGlyphs">Ne</text><path d="M104.0 2.4H100.4V19.3H104.0" fill="none" stroke="#000" stroke-width="1.15"/><text x="106.59" y="15.40" font-size="15.5" fill="#000" textLength="6.52" lengthAdjust="spacingAndGlyphs">x</text><text x="123.72" y="15.30" font-size="15.5" fill="#000" textLength="19.69" lengthAdjust="spacingAndGlyphs">10</text><text x="143.37" y="7.80" font-size="11" fill="#000" textLength="6.45" lengthAdjust="spacingAndGlyphs">8</text><text x="158.04" y="15.30" font-size="15.5" fill="#000" textLength="25.12" lengthAdjust="spacingAndGlyphs">cm</text><text x="183.72" y="7.80" font-size="11" fill="#000" textLength="14.46" lengthAdjust="spacingAndGlyphs">&#8722;3</text><path d="M198.6 2.4H202.2V19.3H198.6" fill="none" stroke="#000" stroke-width="1.15"/><line x1="206.2" y1="19.2" x2="215.2" y2="2.6" stroke="#000" stroke-width="1.15"/><text x="216.69" y="15.40" font-size="15.5" fill="#000" textLength="51.01" lengthAdjust="spacingAndGlyphs">closed</text><text x="381.73" y="15.30" font-size="15.5" fill="#000" textLength="22.38" lengthAdjust="spacingAndGlyphs">Tm</text><path d="M419.1 2.4H415.5V19.3H419.1" fill="none" stroke="#000" stroke-width="1.15"/><text x="420.72" y="15.30" font-size="15.5" fill="#000" textLength="21.91" lengthAdjust="spacingAndGlyphs">MK</text><path d="M445.0 2.4H448.6V19.3H445.0" fill="none" stroke="#000" stroke-width="1.15"/><line x1="452.0" y1="19.2" x2="461.4" y2="2.6" stroke="#000" stroke-width="1.15"/><text x="462.59" y="15.40" font-size="15.5" fill="#000" textLength="51.12" lengthAdjust="spacingAndGlyphs">closed</text><g fill="#fde3e0" stroke="#f2bcbc" stroke-width="1"><rect x="79.3" y="349.6" width="5.01" height="2"/><rect x="84.31" y="350.3" width="5.01" height="1.3"/><rect x="89.32" y="348.1" width="5.01" height="3.5"/><rect x="94.33" y="346.2" width="5.01" height="5.4"/><rect x="99.34" y="347.2" width="5.01" height="4.4"/><rect x="104.35" y="341.8" width="5.01" height="9.8"/><rect x="109.36" y="336.2" width="5.01" height="15.4"/><rect x="114.37" y="331.1" width="5.01" height="20.5"/><rect x="119.38" y="318.6" width="5.01" height="33"/><rect x="124.39" y="307.9" width="5.01" height="43.7"/><rect x="129.4" y="288.2" width="5.01" height="63.4"/><rect x="134.41" y="281.7" width="5.01" height="69.9"/><rect x="139.42" y="259.9" width="5.01" height="91.7"/><rect x="144.43" y="242.2" width="5.01" height="109.4"/><rect x="149.44" y="237.8" width="5.01" height="113.8"/><rect x="154.45" y="228.2" width="5.01" height="123.4"/><rect x="159.46" y="231" width="5.01" height="120.6"/><rect x="164.47" y="238" width="5.01" height="113.6"/><rect x="169.48" y="250.1" width="5.01" height="101.5"/><rect x="174.49" y="263" width="5.01" height="88.6"/><rect x="179.5" y="284.8" width="5.01" height="66.8"/><rect x="184.51" y="303" width="5.01" height="48.6"/><rect x="189.52" y="310.8" width="5.01" height="40.8"/><rect x="194.53" y="320.9" width="5.01" height="30.7"/><rect x="199.54" y="328.4" width="5.01" height="23.2"/><rect x="204.55" y="337.2" width="5.01" height="14.4"/><rect x="209.56" y="338.1" width="5.01" height="13.5"/><rect x="214.57" y="344.3" width="5.01" height="7.3"/><rect x="219.58" y="342.9" width="5.01" height="8.7"/><rect x="224.59" y="346.1" width="5.01" height="5.5"/><rect x="229.6" y="346.1" width="5.01" height="5.5"/><rect x="234.61" y="348.3" width="5.01" height="3.3"/><rect x="239.62" y="346.1" width="5.01" height="5.5"/><rect x="244.63" y="337.1" width="5.01" height="14.5"/></g><rect x="79.5" y="222.5" width="171.7" height="129.5" fill="none" stroke="#bdbdbd" stroke-width="1"/><path d="M96 222.5v3M96 352v3.5M129.4 222.5v3M129.4 352v3.5M162.8 222.5v3M162.8 352v3.5M196.2 222.5v3M196.2 352v3.5M229.6 222.5v3M229.6 352v3.5M87.65 352v2M104.35 352v2M121.05 352v2M137.75 352v2M154.45 352v2M171.15 352v2M187.85 352v2M204.55 352v2M221.25 352v2M237.95 352v2M79.5 323.2h3M251.2 323.2h-3M79.5 294.2h3M251.2 294.2h-3M79.5 265.2h3M251.2 265.2h-3M79.5 236.2h3M251.2 236.2h-3" stroke="#b0b0b0" stroke-width="1" fill="none"/><line x1="162.6" y1="222.5" x2="162.6" y2="352" stroke="#0000ff" stroke-width="1.8"/><text x="23.73" y="243.30" font-size="15.5" fill="#000" textLength="50.98" lengthAdjust="spacingAndGlyphs">0.0800</text><text x="23.63" y="272.10" font-size="15.5" fill="#000" textLength="51.08" lengthAdjust="spacingAndGlyphs">0.0600</text><text x="23.63" y="300.40" font-size="15.5" fill="#000" textLength="51.08" lengthAdjust="spacingAndGlyphs">0.0400</text><text x="23.53" y="329.30" font-size="15.5" fill="#000" textLength="51.19" lengthAdjust="spacingAndGlyphs">0.0200</text><text x="23.63" y="352.70" font-size="15.5" fill="#000" textLength="51.08" lengthAdjust="spacingAndGlyphs">0.0000</text><text x="84.44" y="376.70" font-size="15.5" fill="#000" textLength="22.88" lengthAdjust="spacingAndGlyphs">0.6</text><text x="116.94" y="376.70" font-size="15.5" fill="#000" textLength="22.88" lengthAdjust="spacingAndGlyphs">0.8</text><text x="151.33" y="376.70" font-size="15.5" fill="#000" textLength="22.33" lengthAdjust="spacingAndGlyphs">1.0</text><text x="184.40" y="376.70" font-size="15.5" fill="#000" textLength="23.06" lengthAdjust="spacingAndGlyphs">1.2</text><text x="217.19" y="376.70" font-size="15.5" fill="#000" textLength="23.27" lengthAdjust="spacingAndGlyphs">1.4</text><text x="90.87" y="393.60" font-size="15.5" fill="#000" textLength="35.71" lengthAdjust="spacingAndGlyphs">Ratio</text><text x="134.50" y="393.60" font-size="15.5" fill="#000" textLength="20.29" lengthAdjust="spacingAndGlyphs">AIA</text><line x1="156.7" y1="389.4" x2="164.5" y2="389.4" stroke="#000" stroke-width="1.25"/><text x="166.84" y="393.60" font-size="15.5" fill="#000" textLength="9.16" lengthAdjust="spacingAndGlyphs">3</text><line x1="176.2" y1="399.5" x2="184.8" y2="383.4" stroke="#000" stroke-width="1.15"/><text x="186.30" y="393.60" font-size="15.5" fill="#000" textLength="31.97" lengthAdjust="spacingAndGlyphs">EUVI</text><line x1="218.8" y1="389.4" x2="227.3" y2="389.4" stroke="#000" stroke-width="1.25"/><text x="229.71" y="393.60" font-size="15.5" fill="#000" textLength="9.02" lengthAdjust="spacingAndGlyphs">B</text><text x="12.30" y="356.57" font-size="15.5" fill="#000" textLength="56.73" lengthAdjust="spacingAndGlyphs" transform="rotate(-90 12.30 356.57)">Relative</text><text x="12.30" y="292.84" font-size="15.5" fill="#000" textLength="72.54" lengthAdjust="spacingAndGlyphs" transform="rotate(-90 12.30 292.84)">Frequency</text><text x="133.80" y="237.10" font-size="15.5" fill="#0000ff" textLength="37.18" lengthAdjust="spacingAndGlyphs">Mean</text><text x="179.21" y="237.60" font-size="15.5" fill="#0000ff" textLength="10.74" lengthAdjust="spacingAndGlyphs">=</text><text x="134.26" y="258.20" font-size="15.5" fill="#0000ff" textLength="39.18" lengthAdjust="spacingAndGlyphs">Stdev</text><text x="181.42" y="258.40" font-size="15.5" fill="#0000ff" textLength="10.62" lengthAdjust="spacingAndGlyphs">=</text><text x="197.64" y="237.10" font-size="15.5" fill="#0000ff" textLength="32.07" lengthAdjust="spacingAndGlyphs">0.98</text><text x="200.44" y="258.20" font-size="15.5" fill="#0000ff" textLength="31.97" lengthAdjust="spacingAndGlyphs">0.15</text><g fill="#fde3e0" stroke="#f2bcbc" stroke-width="1"><rect x="369.2" y="351" width="5.01" height="0.6"/><rect x="374.21" y="351" width="5.01" height="0.6"/><rect x="379.22" y="351" width="5.01" height="0.6"/><rect x="384.23" y="351" width="5.01" height="0.6"/><rect x="389.24" y="351" width="5.01" height="0.6"/><rect x="394.25" y="350.9" width="5.01" height="0.7"/><rect x="399.26" y="350.7" width="5.01" height="0.9"/><rect x="404.27" y="350.5" width="5.01" height="1.1"/><rect x="409.28" y="350.6" width="5.01" height="1"/><rect x="414.29" y="350" width="5.01" height="1.6"/><rect x="419.3" y="349.1" width="5.01" height="2.5"/><rect x="424.31" y="347.8" width="5.01" height="3.8"/><rect x="429.32" y="346.1" width="5.01" height="5.5"/><rect x="434.33" y="342" width="5.01" height="9.6"/><rect x="439.34" y="334.2" width="5.01" height="17.4"/><rect x="444.35" y="318.6" width="5.01" height="33"/><rect x="449.36" y="288.1" width="5.01" height="63.5"/><rect x="454.37" y="239.1" width="5.01" height="112.5"/><rect x="459.38" y="228.2" width="5.01" height="123.4"/><rect x="464.39" y="253" width="5.01" height="98.6"/><rect x="469.4" y="293" width="5.01" height="58.6"/><rect x="474.41" y="312.9" width="5.01" height="38.7"/><rect x="479.42" y="323.5" width="5.01" height="28.1"/><rect x="484.43" y="334.2" width="5.01" height="17.4"/><rect x="489.44" y="337.1" width="5.01" height="14.5"/><rect x="494.45" y="342" width="5.01" height="9.6"/><rect x="499.46" y="346.3" width="5.01" height="5.3"/><rect x="504.47" y="344.6" width="5.01" height="7"/><rect x="509.48" y="348.2" width="5.01" height="3.4"/><rect x="514.49" y="347.4" width="5.01" height="4.2"/><rect x="519.5" y="350.2" width="5.01" height="1.4"/><rect x="524.51" y="349.2" width="5.01" height="2.4"/><rect x="529.52" y="350.7" width="5.01" height="0.9"/><rect x="534.53" y="339.3" width="5.01" height="12.3"/></g><rect x="369.5" y="222.5" width="172" height="129.5" fill="none" stroke="#bdbdbd" stroke-width="1"/><path d="M385.9 222.5v3M385.9 352v3.5M419.3 222.5v3M419.3 352v3.5M452.7 222.5v3M452.7 352v3.5M486.1 222.5v3M486.1 352v3.5M519.5 222.5v3M519.5 352v3.5M377.55 352v2M394.25 352v2M410.95 352v2M427.65 352v2M444.35 352v2M461.05 352v2M477.75 352v2M494.45 352v2M511.15 352v2M527.85 352v2M369.5 317.5h3M541.5 317.5h-3M369.5 282.8h3M541.5 282.8h-3M369.5 248.1h3M541.5 248.1h-3" stroke="#b0b0b0" stroke-width="1" fill="none"/><line x1="452.8" y1="222.5" x2="452.8" y2="352" stroke="#0000ff" stroke-width="1.8"/><text x="313.93" y="255.40" font-size="15.5" fill="#000" textLength="50.77" lengthAdjust="spacingAndGlyphs">0.1500</text><text x="313.93" y="289.70" font-size="15.5" fill="#000" textLength="50.77" lengthAdjust="spacingAndGlyphs">0.1000</text><text x="313.83" y="324.20" font-size="15.5" fill="#000" textLength="50.88" lengthAdjust="spacingAndGlyphs">0.0500</text><text x="313.83" y="352.70" font-size="15.5" fill="#000" textLength="50.88" lengthAdjust="spacingAndGlyphs">0.0000</text><text x="374.44" y="376.70" font-size="15.5" fill="#000" textLength="22.88" lengthAdjust="spacingAndGlyphs">0.6</text><text x="406.94" y="376.70" font-size="15.5" fill="#000" textLength="22.88" lengthAdjust="spacingAndGlyphs">0.8</text><text x="441.33" y="376.70" font-size="15.5" fill="#000" textLength="22.33" lengthAdjust="spacingAndGlyphs">1.0</text><text x="474.40" y="376.70" font-size="15.5" fill="#000" textLength="23.06" lengthAdjust="spacingAndGlyphs">1.2</text><text x="507.19" y="376.70" font-size="15.5" fill="#000" textLength="23.27" lengthAdjust="spacingAndGlyphs">1.4</text><text x="380.87" y="393.60" font-size="15.5" fill="#000" textLength="35.71" lengthAdjust="spacingAndGlyphs">Ratio</text><text x="424.50" y="393.60" font-size="15.5" fill="#000" textLength="20.29" lengthAdjust="spacingAndGlyphs">AIA</text><line x1="446.7" y1="389.4" x2="454.5" y2="389.4" stroke="#000" stroke-width="1.25"/><text x="456.84" y="393.60" font-size="15.5" fill="#000" textLength="9.16" lengthAdjust="spacingAndGlyphs">3</text><line x1="466.2" y1="399.5" x2="474.8" y2="383.4" stroke="#000" stroke-width="1.15"/><text x="476.30" y="393.60" font-size="15.5" fill="#000" textLength="31.97" lengthAdjust="spacingAndGlyphs">EUVI</text><line x1="508.8" y1="389.4" x2="517.3" y2="389.4" stroke="#000" stroke-width="1.25"/><text x="519.71" y="393.60" font-size="15.5" fill="#000" textLength="9.02" lengthAdjust="spacingAndGlyphs">B</text><text x="302.30" y="355.77" font-size="15.5" fill="#000" textLength="56.73" lengthAdjust="spacingAndGlyphs" transform="rotate(-90 302.30 355.77)">Relative</text><text x="302.30" y="292.04" font-size="15.5" fill="#000" textLength="72.54" lengthAdjust="spacingAndGlyphs" transform="rotate(-90 302.30 292.04)">Frequency</text><text x="423.80" y="237.10" font-size="15.5" fill="#0000ff" textLength="37.18" lengthAdjust="spacingAndGlyphs">Mean</text><text x="469.21" y="237.60" font-size="15.5" fill="#0000ff" textLength="10.74" lengthAdjust="spacingAndGlyphs">=</text><text x="424.26" y="258.20" font-size="15.5" fill="#0000ff" textLength="39.18" lengthAdjust="spacingAndGlyphs">Stdev</text><text x="471.42" y="258.40" font-size="15.5" fill="#0000ff" textLength="10.62" lengthAdjust="spacingAndGlyphs">=</text><text x="488.31" y="237.10" font-size="15.5" fill="#0000ff" textLength="31.90" lengthAdjust="spacingAndGlyphs">1.08</text><text x="490.45" y="258.20" font-size="15.5" fill="#0000ff" textLength="30.25" lengthAdjust="spacingAndGlyphs">0.11</text></svg></body></html>
